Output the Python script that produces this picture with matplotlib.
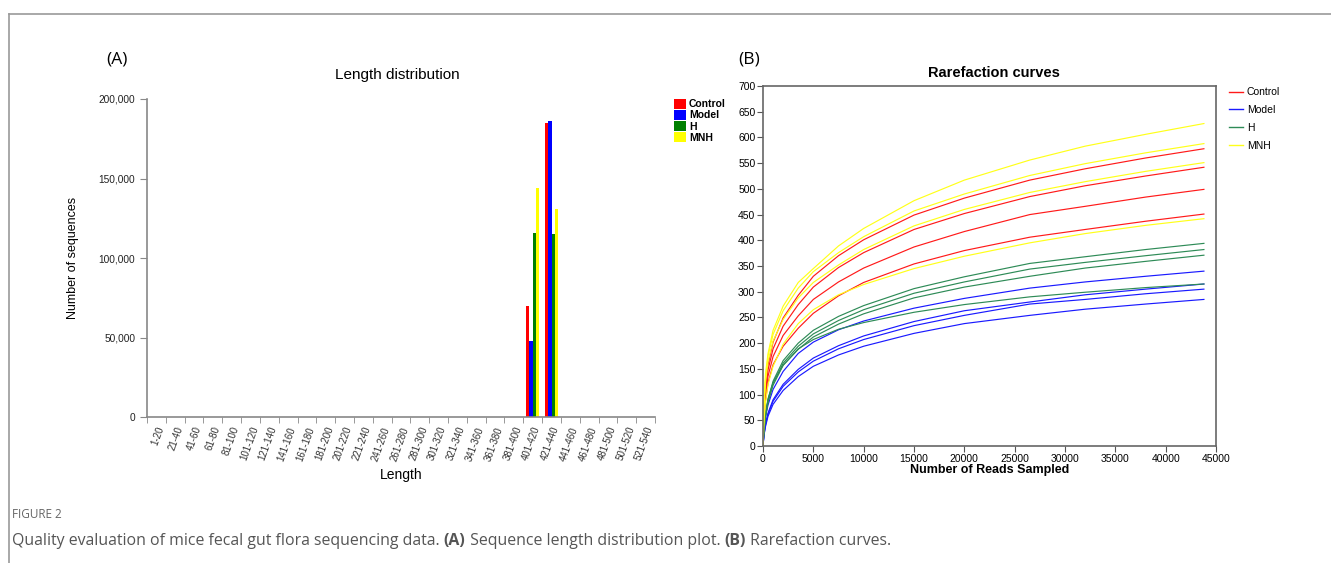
import matplotlib
matplotlib.use('Agg')
import matplotlib.pyplot as plt
import numpy as np
from matplotlib.ticker import FuncFormatter, MultipleLocator
from matplotlib.lines import Line2D
from matplotlib.patches import Patch

plt.rcParams['font.family'] = ['Liberation Sans', 'DejaVu Sans']

# ---- data: (A) length distribution ----
length_bins = ['1-20', '21-40', '41-60', '61-80', '81-100', '101-120', '121-140',
               '141-160', '161-180', '181-200', '201-220', '221-240', '241-260',
               '261-280', '281-300', '301-320', '321-340', '341-360', '361-380',
               '381-400', '401-420', '421-440', '441-460', '461-480', '481-500',
               '501-520', '521-540']
groups = ['Control', 'Model', 'H', 'MNH']
control_len = [0] * 20 + [70000, 185000] + [0] * 5
model_len = [0] * 20 + [48000, 186000] + [0] * 5
h_len = [0] * 20 + [116000, 115000] + [0] * 5
mnh_len = [0] * 20 + [144000, 131000] + [0] * 5
bar_colors = ['#ff0000', '#0000ff', '#008000', '#ffff00']

# ---- data: (B) rarefaction curves ----
reads = [0, 100, 250, 500, 1000, 2000, 3500, 5000, 7500, 10000, 15000, 20000,
         26500, 32000, 38000, 43800]
control_1 = [0, 69, 114, 158, 202, 249, 293, 330, 370, 401, 449, 482, 517, 539, 560, 578]
control_2 = [0, 65, 107, 148, 189, 233, 275, 309, 347, 376, 421, 452, 485, 506, 525, 542]
control_3 = [0, 60, 99, 136, 174, 215, 253, 285, 319, 346, 387, 417, 450, 466, 484, 499]
control_4 = [0, 54, 89, 123, 158, 194, 229, 258, 292, 318, 354, 380, 406, 421, 437, 451]
model_1 = [0, 33, 57, 80, 110, 145, 180, 202, 226, 243, 268, 287, 307, 319, 330, 340]
model_2 = [0, 23, 43, 64, 90, 120, 149, 171, 195, 214, 242, 263, 280, 294, 305, 315]
model_3 = [0, 22, 41, 62, 87, 116, 144, 165, 189, 207, 234, 254, 276, 285, 296, 305]
model_4 = [0, 21, 38, 58, 81, 108, 135, 155, 177, 194, 219, 238, 254, 266, 276, 285]
h_1 = [0, 33, 60, 90, 126, 166, 200, 225, 252, 273, 306, 329, 355, 368, 382, 394]
h_2 = [0, 32, 58, 88, 122, 161, 194, 218, 244, 265, 297, 319, 344, 357, 370, 382]
h_3 = [0, 31, 57, 85, 118, 157, 188, 212, 237, 257, 288, 309, 330, 346, 359, 371]
h_4 = [0, 37, 65, 92, 123, 157, 189, 207, 227, 240, 260, 275, 290, 299, 308, 315]
mnh_1 = [0, 88, 141, 180, 225, 272, 318, 345, 389, 423, 477, 517, 556, 583, 606, 627]
mnh_2 = [0, 83, 132, 175, 217, 263, 307, 339, 376, 407, 457, 490, 526, 549, 570, 588]
mnh_3 = [0, 77, 124, 164, 204, 246, 288, 318, 352, 382, 428, 460, 493, 514, 534, 551]
mnh_4 = [0, 50, 85, 120, 155, 198, 238, 265, 294, 314, 345, 369, 395, 413, 429, 442]
line_colors = ['#ff1a1a', '#1a1aff', '#2e8b57', '#ffff1a']

fig = plt.figure(figsize=(13.31, 5.63), dpi=100)
W, H = 1331, 563

# frame lines (top and left)
fig.add_artist(Line2D([9 / W, 1], [1 - 14 / H, 1 - 14 / H], color='#9a9a9a', lw=1.2))
fig.add_artist(Line2D([9 / W, 9 / W], [0, 1 - 14 / H], color='#9a9a9a', lw=1.2))

# ---------------- (A) ----------------
axA = fig.add_axes([147 / W, 1 - 417 / H, 508 / W, 318 / H])
x = np.arange(len(length_bins))
bw = 0.175
for i, (vals, c) in enumerate(zip([control_len, model_len, h_len, mnh_len], bar_colors)):
    axA.bar(x + (i - 1.5) * bw, vals, width=bw, color=c, linewidth=0)
axA.set_xlim(-0.5, len(length_bins) - 0.5)
axA.set_ylim(0, 200000)
axA.yaxis.set_major_locator(MultipleLocator(50000))
axA.yaxis.set_major_formatter(FuncFormatter(lambda v, p: f'{int(v):,}'))
axA.set_xticks(x)
axA.set_xticklabels(length_bins, rotation=70, ha='right', rotation_mode='anchor', fontsize=7, color='#333333')
axA.set_xticks(np.arange(len(length_bins) + 1) - 0.5, minor=True)
axA.tick_params(axis='x', which='major', length=0, pad=6)
axA.tick_params(axis='x', which='minor', length=4, color='#888888', direction='out')
axA.tick_params(axis='y', length=5, color='#888888', labelsize=7.3, labelcolor='#222222')
for s in ['top', 'right']:
    axA.spines[s].set_visible(False)
for s in ['left', 'bottom']:
    axA.spines[s].set_color('#888888')
    axA.spines[s].set_linewidth(1.2)
axA.set_xlabel('Length', fontsize=10, labelpad=4)
axA.set_ylabel('Number of sequences', fontsize=9, labelpad=14)
fig.text(397 / W, 1 - 75 / H, 'Length distribution', fontsize=11, ha='center', va='center')
handlesA = [Patch(facecolor=c, edgecolor='none') for c in bar_colors]
fig.legend(handlesA, groups, loc='upper left', bbox_to_anchor=(669 / W, 1 - 94 / H),
           frameon=False, prop={'size': 7.5, 'weight': 'bold'}, handlelength=1.1,
           handleheight=1.0, handletextpad=0.3, labelspacing=0.08, borderpad=0)

# ---------------- (B) ----------------
axB = fig.add_axes([763 / W, 1 - 446 / H, 453 / W, 360 / H])
series = [
    [control_1, control_2, control_3, control_4],
    [model_1, model_2, model_3, model_4],
    [h_1, h_2, h_3, h_4],
    [mnh_1, mnh_2, mnh_3, mnh_4],
]
for curves, c in zip(series, line_colors):
    for cv in curves:
        axB.plot(reads, cv, color=c, lw=0.85)
axB.set_xlim(0, 45000)
axB.set_ylim(0, 700)
axB.xaxis.set_major_locator(MultipleLocator(5000))
axB.yaxis.set_major_locator(MultipleLocator(50))
axB.tick_params(length=4, color='#555555', labelsize=7.5, pad=1.5)
for s in axB.spines.values():
    s.set_color('#666666')
    s.set_linewidth(1.2)
axB.set_xlabel('Number of Reads Sampled', fontsize=9, fontweight='bold', labelpad=0)
fig.text(994 / W, 1 - 73 / H, 'Rarefaction curves', fontsize=10.5, fontweight='bold',
         ha='center', va='center')
handlesB = [Line2D([], [], color=c, lw=1.0) for c in line_colors]
fig.legend(handlesB, groups, loc='upper left', bbox_to_anchor=(1224 / W, 1 - 82 / H),
           frameon=False, fontsize=7.5, handlelength=1.3, handletextpad=0.4,
           labelspacing=0.75, borderpad=0)

# panel letters
fig.text(117 / W, 1 - 60 / H, '(A)', fontsize=12.5, family='Open Sans', ha='center', va='center')
fig.text(749 / W, 1 - 60 / H, '(B)', fontsize=12.5, family='Open Sans', ha='center', va='center')

# caption
fig.text(12 / W, 1 - 515 / H, 'FIGURE 2', fontsize=8.5, family='Open Sans', color='#666666',
         va='center')
parts = [('Quality evaluation of mice fecal gut flora sequencing data. ', 'normal'),
         ('(A)', 'bold'),
         (' Sequence length distribution plot. ', 'normal'),
         ('(B)', 'bold'),
         (' Rarefaction curves.', 'normal')]
renderer = fig.canvas.get_renderer()
xpos = 12 / W
for txt, wgt in parts:
    t = fig.text(xpos, 1 - 541 / H, txt, fontsize=11.4, family='Open Sans', fontweight=wgt,
                 color='#555555', va='center')
    bb = t.get_window_extent(renderer=renderer)
    xpos += bb.width / fig.bbox.width

fig.savefig('out.png', dpi=100)
